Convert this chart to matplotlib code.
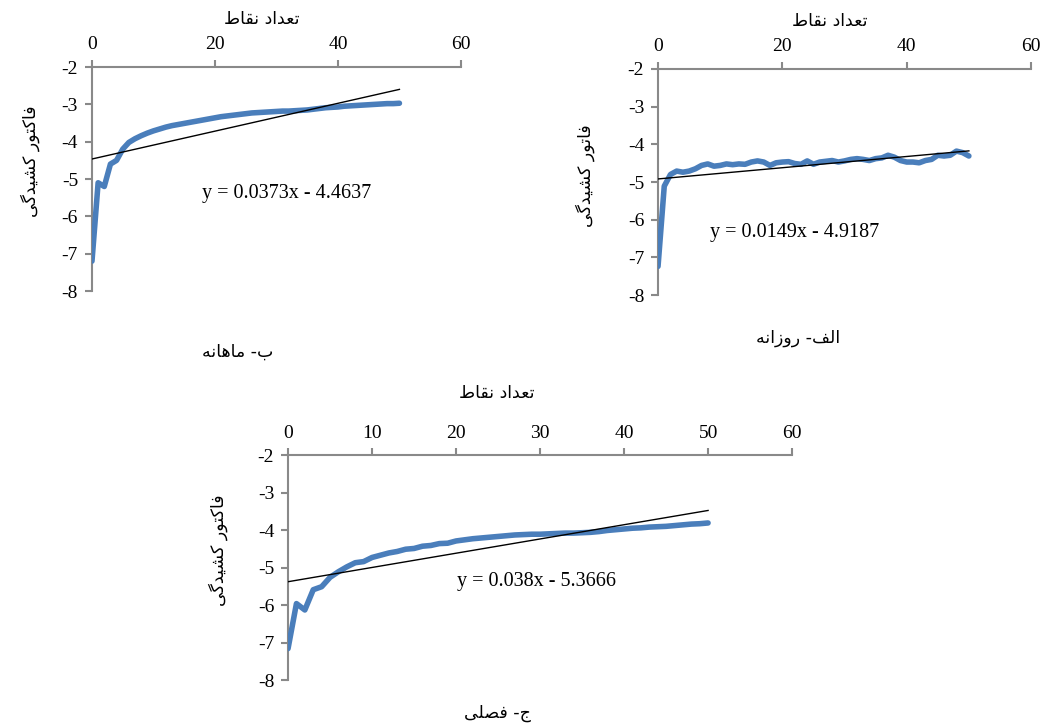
#Drag factor vs number of points, three panels (daily, monthly, seasonal)
import numpy as np
import matplotlib
matplotlib.use("Agg")
from matplotlib import pyplot as plt

#Data
points = list(range(51))

daily = [-7.24, -5.11, -4.80, -4.71, -4.74, -4.71, -4.65, -4.56, -4.52, -4.58,
         -4.56, -4.52, -4.54, -4.52, -4.53, -4.47, -4.44, -4.47, -4.56, -4.49,
         -4.47, -4.46, -4.51, -4.53, -4.44, -4.53, -4.47, -4.45, -4.43, -4.47,
         -4.44, -4.40, -4.38, -4.40, -4.43, -4.38, -4.36, -4.29, -4.34, -4.43,
         -4.47, -4.47, -4.49, -4.43, -4.40, -4.29, -4.31, -4.29, -4.18, -4.22,
         -4.31]

monthly = [-7.20, -5.10, -5.20, -4.60, -4.50, -4.20, -4.02, -3.92, -3.84, -3.77,
           -3.71, -3.66, -3.61, -3.57, -3.54, -3.51, -3.48, -3.45, -3.42, -3.39,
           -3.36, -3.33, -3.31, -3.29, -3.27, -3.25, -3.23, -3.22, -3.21, -3.20,
           -3.19, -3.18, -3.18, -3.17, -3.16, -3.15, -3.13, -3.11, -3.09, -3.08,
           -3.07, -3.05, -3.04, -3.03, -3.02, -3.01, -3.00, -2.99, -2.98, -2.98,
           -2.97]

seasonal = [-7.15, -5.95, -6.12, -5.58, -5.50, -5.25, -5.10, -4.97, -4.86, -4.83,
            -4.72, -4.66, -4.60, -4.56, -4.50, -4.48, -4.42, -4.40, -4.35, -4.34,
            -4.28, -4.25, -4.22, -4.20, -4.18, -4.16, -4.14, -4.12, -4.11, -4.10,
            -4.10, -4.09, -4.08, -4.07, -4.07, -4.06, -4.05, -4.03, -4.00, -3.98,
            -3.96, -3.94, -3.93, -3.91, -3.90, -3.89, -3.87, -3.85, -3.83, -3.82,
            -3.80]

#Trendline coefficients printed on the chart
daily_fit = (0.0149, -4.9187)
monthly_fit = (0.0373, -4.4637)
seasonal_fit = (0.038, -5.3666)

x_title = "تعداد نقاط"
y_title = "فاکتور کشیدگی"
y_title_daily = "فاتور کشیدگی"
cap_daily = "الف- روزانه"
cap_monthly = "ب- ماهانه"
cap_seasonal = "ج- فصلی"

#matplotlib does not join Arabic letters, so pick the presentation forms by hand
#(isolated, final, initial, medial)
FORMS = {
    'ا': ('\ufe8d', '\ufe8e', None, None),
    'ب': ('\ufe8f', '\ufe90', '\ufe91', '\ufe92'),
    'ت': ('\ufe95', '\ufe96', '\ufe97', '\ufe98'),
    'ج': ('\ufe9d', '\ufe9e', '\ufe9f', '\ufea0'),
    'د': ('\ufea9', '\ufeaa', None, None),
    'ر': ('\ufead', '\ufeae', None, None),
    'ز': ('\ufeaf', '\ufeb0', None, None),
    'ش': ('\ufeb5', '\ufeb6', '\ufeb7', '\ufeb8'),
    'ص': ('\ufeb9', '\ufeba', '\ufebb', '\ufebc'),
    'ط': ('\ufec1', '\ufec2', '\ufec3', '\ufec4'),
    'ع': ('\ufec9', '\ufeca', '\ufecb', '\ufecc'),
    'ف': ('\ufed1', '\ufed2', '\ufed3', '\ufed4'),
    'ق': ('\ufed5', '\ufed6', '\ufed7', '\ufed8'),
    'ک': ('\ufb8e', '\ufb8f', '\ufb90', '\ufb91'),
    'گ': ('\ufb92', '\ufb93', '\ufb94', '\ufb95'),
    'ل': ('\ufedd', '\ufede', '\ufedf', '\ufee0'),
    'م': ('\ufee1', '\ufee2', '\ufee3', '\ufee4'),
    'ن': ('\ufee5', '\ufee6', '\ufee7', '\ufee8'),
    'ه': ('\ufee9', '\ufeea', '\ufeeb', '\ufeec'),
    'و': ('\ufeed', '\ufeee', None, None),
    'ی': ('\ufbfc', '\ufbfd', '\ufbfe', '\ufbff'),
}


def persian(text):
    out = []
    for i, ch in enumerate(text):
        if ch not in FORMS:
            out.append(ch)
            continue
        prev = text[i - 1] if i > 0 else ''
        nxt = text[i + 1] if i + 1 < len(text) else ''
        joins_prev = prev in FORMS and FORMS[prev][2] is not None
        joins_next = FORMS[ch][2] is not None and nxt in FORMS
        iso, fin, ini, med = FORMS[ch]
        if joins_prev and joins_next:
            out.append(med)
        elif joins_prev:
            out.append(fin)
        elif joins_next:
            out.append(ini)
        else:
            out.append(iso)
    #right to left -> reverse for left to right drawing
    return ''.join(reversed(out))


plt.rcParams['axes.unicode_minus'] = False
fa_font = 'DejaVu Sans'
num_font = 'Liberation Serif'
grey = '#898989'
blue = '#4A7EBB'

fig = plt.figure(figsize=(10.44, 7.27), dpi=100)


def panel(rect, y, fit, step, eq_pos):
    ax = fig.add_axes(rect)
    ax.plot(points, y, color=blue, linewidth=4.0, solid_capstyle='round',
            solid_joinstyle='round', zorder=3)
    slope, icpt = fit
    xs = np.array([points[0], points[-1]])
    ax.plot(xs, slope * xs + icpt, color='black', linewidth=1.0, zorder=4)
    ax.text(eq_pos[0], eq_pos[1], "y = %sx - %s" % (slope, abs(icpt)),
            fontsize=14.5, family=num_font, ha='center', va='center')
    ax.set_xlim(0, 60)
    ax.set_ylim(-8, -2)
    ax.xaxis.tick_top()
    ax.set_xticks(np.arange(0, 61, step))
    ax.set_yticks(np.arange(-8, -1, 1))
    for s in ['right', 'bottom']:
        ax.spines[s].set_visible(False)
    for s in ['top', 'left']:
        ax.spines[s].set_color(grey)
        ax.spines[s].set_linewidth(1.5)
    ax.tick_params(color=grey, labelcolor='black', direction='out', length=5,
                   width=1.5, labelsize=14, pad=5)
    for lab in ax.get_xticklabels() + ax.get_yticklabels():
        lab.set_family(num_font)
    return ax


#top right: daily
panel([0.6303, 0.5942, 0.3573, 0.3109], daily, daily_fit, 20, (22.0, -6.35))
#top left: monthly
panel([0.0881, 0.5997, 0.3534, 0.3081], monthly, monthly_fit, 20, (31.7, -5.375))
#bottom: seasonal
panel([0.2759, 0.0640, 0.4828, 0.3095], seasonal, seasonal_fit, 10, (29.6, -5.35))

#axis titles and captions
fs = 12.5
fig.text(262 / 1044, 1 - 19 / 727, persian(x_title), family=fa_font, fontsize=fs, ha='center', va='center')
fig.text(830 / 1044, 1 - 21 / 727, persian(x_title), family=fa_font, fontsize=fs, ha='center', va='center')
fig.text(497 / 1044, 1 - 393 / 727, persian(x_title), family=fa_font, fontsize=fs, ha='center', va='center')

fig.text(30 / 1044, 1 - 161 / 727, persian(y_title), family=fa_font, fontsize=fs, ha='center', va='center', rotation=90)
fig.text(585 / 1044, 1 - 176 / 727, persian(y_title_daily), family=fa_font, fontsize=fs, ha='center', va='center', rotation=90)
fig.text(218 / 1044, 1 - 550 / 727, persian(y_title), family=fa_font, fontsize=fs, ha='center', va='center', rotation=90)

fig.text(238 / 1044, 1 - 352 / 727, persian(cap_monthly), family=fa_font, fontsize=fs, ha='center', va='center')
fig.text(798 / 1044, 1 - 338 / 727, persian(cap_daily), family=fa_font, fontsize=fs, ha='center', va='center')
fig.text(498 / 1044, 1 - 713 / 727, persian(cap_seasonal), family=fa_font, fontsize=fs, ha='center', va='center')

plt.savefig("out.png", dpi=100)
